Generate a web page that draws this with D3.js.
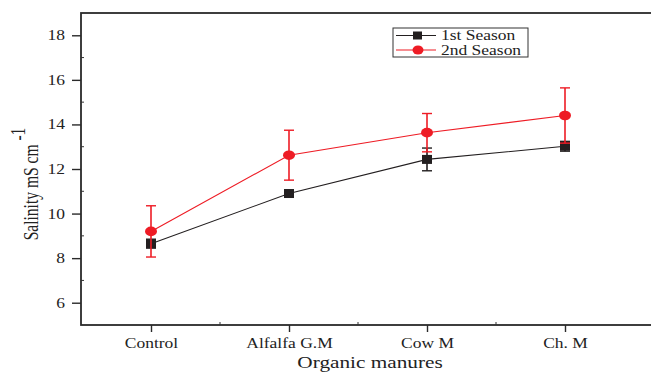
<!DOCTYPE html>
<html>
<head>
<meta charset="utf-8">
<script src="https://cdn.jsdelivr.net/npm/d3@7"></script>
<style>
	body { margin:0; background:#fff; }
	svg { display:block; font-family:"Liberation Serif", "Times New Roman", serif; }
</style>
</head>
<body>
<div id="chart"></div>
<script>
var categories = ['Control', 'Alfalfa G.M', 'Cow M', 'Ch. M'];
var season1 = [8.65, 10.9, 12.43, 13.02];
var season1Err = [0.2, 0.08, 0.51, 0.22];
var season2 = [9.2, 12.62, 13.63, 14.4];
var season2Err = [1.15, 1.12, 0.86, 1.24];
var yTicks = [6, 8, 10, 12, 14, 16, 18];
var seriesNames = ['1st Season', '2nd Season'];

var red = '#ee1c25';
var black = '#231f20';
var stretch = 1.25; // the original picture is widened horizontally

var width = 651, height = 372;
var plotLeft = 81, plotTop = 13, plotBottom = 325, plotRight = 658;

var svg = d3.select('#chart').append('svg')
	.attr('width', width)
	.attr('height', height);

// categories sit 138px apart, first one at 151
var x = d3.scaleLinear()
	.domain([0, 3])
	.range([151, 565]);

var y = d3.scaleLinear()
	.domain([5, 19])
	.range([plotBottom, plotTop]);

// frame
svg.append('rect')
	.attr('x', plotLeft)
	.attr('y', plotTop)
	.attr('width', plotRight - plotLeft)
	.attr('height', plotBottom - plotTop)
	.attr('fill', 'none')
	.attr('stroke', '#2a2a2a')
	.attr('stroke-width', 1.8);

// y axis
var yAxis = d3.axisLeft(y)
	.tickValues(yTicks)
	.tickSize(9)
	.tickPadding(7)
	.tickFormat(d3.format('d'));

var gy = svg.append('g')
	.attr('transform', 'translate(' + plotLeft + ',0)')
	.call(yAxis);
gy.select('.domain').remove();
gy.selectAll('.tick line').attr('stroke', '#2a2a2a').attr('stroke-width', 1.4);
gy.selectAll('.tick text')
	.attr('font-size', 14).attr('fill', '#222')
	.attr('font-family', '"Liberation Serif", serif')
	.attr('x', -16 / stretch)
	.attr('transform', 'scale(' + stretch + ',1)');

// minor y ticks (inward)
svg.append('g').selectAll('line')
	.data(d3.range(7, 19, 2))
	.enter().append('line')
	.attr('x1', plotLeft)
	.attr('x2', plotLeft + 3)
	.attr('y1', function(d){ return y(d); })
	.attr('y2', function(d){ return y(d); })
	.attr('stroke', '#333');

// x axis
var xAxis = d3.axisBottom(x)
	.tickValues(d3.range(categories.length))
	.tickSize(7)
	.tickPadding(6)
	.tickFormat(function(d){ return categories[d]; });

var gx = svg.append('g')
	.attr('transform', 'translate(0,' + plotBottom + ')')
	.call(xAxis);
gx.select('.domain').remove();
gx.selectAll('.tick line').attr('stroke', '#2a2a2a').attr('stroke-width', 1.4);
gx.selectAll('.tick text')
	.attr('font-size', 14).attr('fill', '#222')
	.attr('font-family', '"Liberation Serif", serif')
	.attr('transform', 'scale(' + stretch + ',1)');

// minor x ticks (inward)
svg.append('g').selectAll('line')
	.data([0.5, 1.5, 2.5])
	.enter().append('line')
	.attr('x1', function(d){ return x(d); })
	.attr('x2', function(d){ return x(d); })
	.attr('y1', plotBottom)
	.attr('y2', plotBottom - 3)
	.attr('stroke', '#333');

// axis titles
svg.append('text')
	.attr('transform', 'translate(370,368) scale(' + stretch + ',1)')
	.attr('text-anchor', 'middle')
	.attr('font-size', 17)
	.attr('fill', '#222')
	.text('Organic manures');

var ylab = svg.append('g')
	.attr('transform', 'translate(38,184) rotate(-90) scale(0.74,1)');
var yt = ylab.append('text')
	.attr('text-anchor', 'middle')
	.attr('font-size', 21)
	.attr('fill', '#222');
yt.append('tspan').text('Salinity mS cm ');
yt.append('tspan').attr('dy', -13).text('-1');

// series
var series = [
	{ name: seriesNames[0], values: season1, err: season1Err, color: black, shape: 'square' },
	{ name: seriesNames[1], values: season2, err: season2Err, color: red, shape: 'circle' }
];

var line = d3.line()
	.x(function(d, i){ return x(i); })
	.y(function(d){ return y(d); });

series.forEach(function(s){
	var g = svg.append('g');
	g.append('path')
		.datum(s.values)
		.attr('d', line)
		.attr('fill', 'none')
		.attr('stroke', s.color)
		.attr('stroke-width', 1.1);

	var eb = g.selectAll('.err')
		.data(s.values)
		.enter().append('g');
	eb.append('line')
		.attr('x1', function(d, i){ return x(i); })
		.attr('x2', function(d, i){ return x(i); })
		.attr('y1', function(d, i){ return y(d + s.err[i]); })
		.attr('y2', function(d, i){ return y(d - s.err[i]); })
		.attr('stroke', s.color)
		.attr('stroke-width', 1.6);
	[1, -1].forEach(function(sign){
		eb.append('line')
			.attr('x1', function(d, i){ return x(i) - 5; })
			.attr('x2', function(d, i){ return x(i) + 5; })
			.attr('y1', function(d, i){ return y(d + sign * s.err[i]); })
			.attr('y2', function(d, i){ return y(d + sign * s.err[i]); })
			.attr('stroke', s.color)
			.attr('stroke-width', 1.4);
	});

	if (s.shape === 'square') {
		g.selectAll('.pt').data(s.values).enter().append('rect')
			.attr('x', function(d, i){ return x(i) - 5; })
			.attr('y', function(d){ return y(d) - 4.5; })
			.attr('width', 10)
			.attr('height', 9)
			.attr('fill', s.color);
	} else {
		g.selectAll('.pt').data(s.values).enter().append('ellipse')
			.attr('cx', function(d, i){ return x(i); })
			.attr('cy', function(d){ return y(d); })
			.attr('rx', 6)
			.attr('ry', 4.8)
			.attr('fill', s.color);
	}
});

// legend
var legend = svg.append('g').attr('transform', 'translate(393,28)');
legend.append('rect')
	.attr('width', 135)
	.attr('height', 29)
	.attr('fill', '#fff')
	.attr('stroke', '#333')
	.attr('stroke-width', 1);
series.forEach(function(s, i){
	var ly = 7.5 + i * 14.5;
	legend.append('line')
		.attr('x1', 3).attr('x2', 43)
		.attr('y1', ly).attr('y2', ly)
		.attr('stroke', s.color)
		.attr('stroke-width', 1.1);
	if (s.shape === 'square') {
		legend.append('rect')
			.attr('x', 20).attr('y', ly - 4)
			.attr('width', 9).attr('height', 8)
			.attr('fill', s.color);
	} else {
		legend.append('ellipse')
			.attr('cx', 25).attr('cy', ly)
			.attr('rx', 5.5).attr('ry', 4.5)
			.attr('fill', s.color);
	}
	legend.append('text')
		.attr('transform', 'translate(48,' + (ly + 4.5) + ') scale(' + stretch + ',1)')
		.attr('font-size', 14)
		.attr('fill', '#222')
		.text(s.name);
});
</script>
</body>
</html>
